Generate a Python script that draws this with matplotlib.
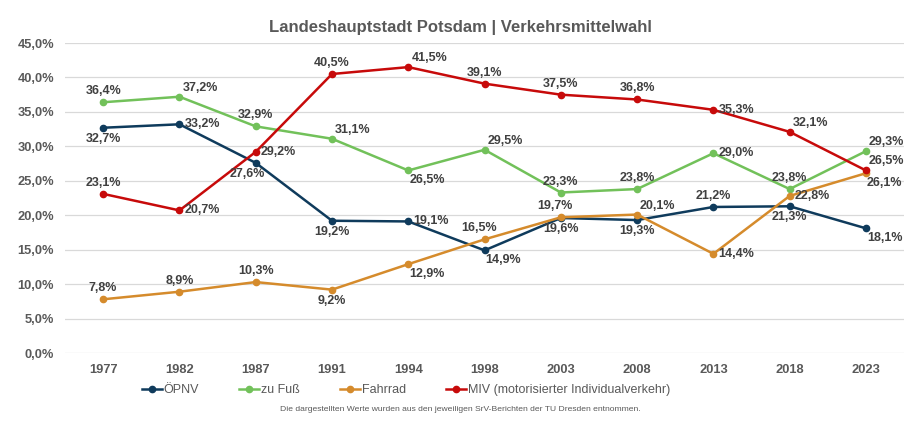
#!/usr/bin/env python3
"""
Modal split Potsdam (SrV) as line chart with value labels.
"""

import matplotlib
matplotlib.use('Agg')
import matplotlib.pyplot as plt
from matplotlib.ticker import FuncFormatter

years = ["1977", "1982", "1987", "1991", "1994", "1998", "2003", "2008", "2013", "2018", "2023"]

oepnv = [32.7, 33.2, 27.6, 19.2, 19.1, 14.9, 19.6, 19.3, 21.2, 21.3, 18.1]
zu_fuss = [36.4, 37.2, 32.9, 31.1, 26.5, 29.5, 23.3, 23.8, 29.0, 23.8, 29.3]
fahrrad = [7.8, 8.9, 10.3, 9.2, 12.9, 16.5, 19.7, 20.1, 14.4, 22.8, 26.1]
miv = [23.1, 20.7, 29.2, 40.5, 41.5, 39.1, 37.5, 36.8, 35.3, 32.1, 26.5]

names = ["ÖPNV", "zu Fuß", "Fahrrad", "MIV (motorisierter Individualverkehr)"]
colors = ["#0f3b5c", "#72c15a", "#d58b2c", "#c70a0a"]

# where each value label sits relative to its point
label_pos = [
    ['b', 'r', 'bl', 'b', 'r', 'br', 'b', 'b', 'a', 'b', 'br'],
    ['a', 'ar', 'a', 'ar', 'br', 'ar', 'a', 'a', 'r', 'a', 'ar'],
    ['a', 'a', 'a', 'b', 'br', 'al', 'al', 'ar', 'r', 'r', 'br'],
    ['a', 'r', 'r', 'a', 'ar', 'a', 'a', 'a', 'r', 'ar', 'ar'],
]
offsets = {
    'a': ((0, 5), 'center', 'bottom'),
    'al': ((-6, 5), 'center', 'bottom'),
    'ar': ((3, 3), 'left', 'bottom'),
    'b': ((0, -5), 'center', 'top'),
    'bl': ((-8, -5), 'center', 'top'),
    'br': ((1, -4), 'left', 'top'),
    'r': ((5, 0), 'left', 'center'),
}

plt.rcParams['font.family'] = ['Liberation Sans', 'DejaVu Sans']
text_gray = '#595959'
label_gray = '#404040'

fig = plt.figure(figsize=(9.2, 4.3), dpi=100)
ax = fig.add_axes([0.0707, 0.179, 0.912, 0.721])

x = list(range(len(years)))
series = [oepnv, zu_fuss, fahrrad, miv]
for vals, name, col, pos in zip(series, names, colors, label_pos):
    ax.plot(x, vals, color=col, linewidth=1.8, marker='o', markersize=4.5,
            label=name, zorder=3)
    for xi, v, p in zip(x, vals, pos):
        off, ha, va = offsets[p]
        ax.annotate(f"{v:.1f}%".replace('.', ','), (xi, v), xytext=off,
                    textcoords='offset pixels', ha=ha, va=va, fontsize=9,
                    fontweight='bold', color=label_gray, zorder=4)

ax.set_xlim(-0.5, len(years) - 0.5)
ax.set_ylim(0, 45)
ax.set_yticks(range(0, 46, 5))
ax.yaxis.set_major_formatter(FuncFormatter(lambda v, _: f"{v:.1f}%".replace('.', ',')))
ax.set_xticks(x)
ax.set_xticklabels(years)
ax.grid(axis='y', color='#d9d9d9', linewidth=0.9, zorder=0)
ax.set_axisbelow(True)
for s in ax.spines.values():
    s.set_visible(False)
ax.tick_params(length=0, labelsize=9.3, colors=text_gray)
ax.tick_params(axis='x', pad=8)
ax.tick_params(axis='y', pad=8)
for t in ax.get_xticklabels() + ax.get_yticklabels():
    t.set_fontweight('bold')

fig.text(0.5, 0.937, "Landeshauptstadt Potsdam | Verkehrsmittelwahl", ha='center',
         va='center', fontsize=12, fontweight='bold', color=text_gray)

leg = fig.legend(loc='center', bbox_to_anchor=(0.441, 0.093), ncol=4, frameon=False,
                 fontsize=9, handlelength=1.6, handletextpad=0.15, columnspacing=3.2,
                 labelcolor=text_gray)

fig.text(0.5, 0.047, "Die dargestellten Werte wurden aus den jeweiligen SrV-Berichten der TU Dresden entnommen.",
         ha='center', va='center', fontsize=6.1, color=text_gray)

fig.savefig('out.png', dpi=100)
plt.close(fig)
